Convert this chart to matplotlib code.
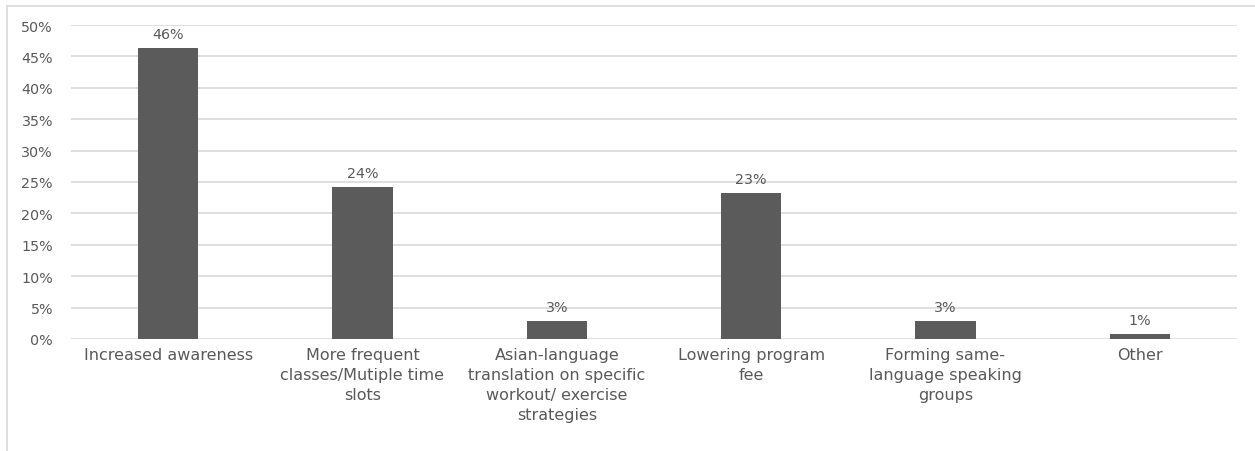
import matplotlib.pyplot as plt
from matplotlib.lines import Line2D
from matplotlib.ticker import FuncFormatter, MultipleLocator

CATEGORIES = [
    "Increased awareness",
    "More frequent\nclasses/Mutiple time\nslots",
    "Asian-language\ntranslation on specific\nworkout/ exercise\nstrategies",
    "Lowering program\nfee",
    "Forming same-\nlanguage speaking\ngroups",
    "Other",
]
VALUES = [0.463, 0.242, 0.028, 0.232, 0.028, 0.008]
LABELS = ["46%", "24%", "3%", "23%", "3%", "1%"]

TEXT_COLOR = "#595959"
BAR_COLOR = "#5b5b5b"
GRID_COLOR = "#d9d9d9"
FONT = ["DejaVu Sans"]
FS = 11.5

fig = plt.figure(figsize=(12.55, 4.52), dpi=100)
ax = fig.add_axes([71 / 1255, 1 - 340 / 452, (1237 - 71) / 1255, (340 - 26) / 452])

x = range(len(CATEGORIES))
ax.bar(x, VALUES, width=0.31, color=BAR_COLOR, zorder=3)
for xi, v, lab in zip(x, VALUES, LABELS):
    ax.annotate(lab, (xi, v), xytext=(0, 5), textcoords="offset points",
                ha="center", va="bottom", fontsize=10.3, color=TEXT_COLOR,
                family=FONT)

ax.set_xlim(-0.5, len(CATEGORIES) - 0.5)
ax.set_ylim(0, 0.5)
ax.yaxis.set_major_locator(MultipleLocator(0.05))
ax.yaxis.set_major_formatter(FuncFormatter(lambda v, _: f"{v * 100:.0f}%"))
ax.grid(axis="y", color=GRID_COLOR, linewidth=1.2, zorder=0)
ax.set_xticks(list(x))
ax.set_xticklabels(CATEGORIES, fontsize=FS, color=TEXT_COLOR, family=FONT,
                   linespacing=1.42, va="top")
for lab in ax.get_yticklabels():
    lab.set_family(FONT)
ax.tick_params(axis="y", length=0, pad=13, labelsize=10.3, labelcolor=TEXT_COLOR)
ax.tick_params(axis="x", length=0, pad=6)
for s in ax.spines.values():
    s.set_visible(False)

# chart frame (left and top edges visible)
fig.add_artist(Line2D([7 / 1255, 7 / 1255], [0, 1 - 7 / 452],
                      transform=fig.transFigure, color=GRID_COLOR, linewidth=1.2))
fig.add_artist(Line2D([7 / 1255, 1], [1 - 7 / 452, 1 - 7 / 452],
                      transform=fig.transFigure, color=GRID_COLOR, linewidth=1.2))

fig.savefig("out.png", dpi=100, facecolor="white")
